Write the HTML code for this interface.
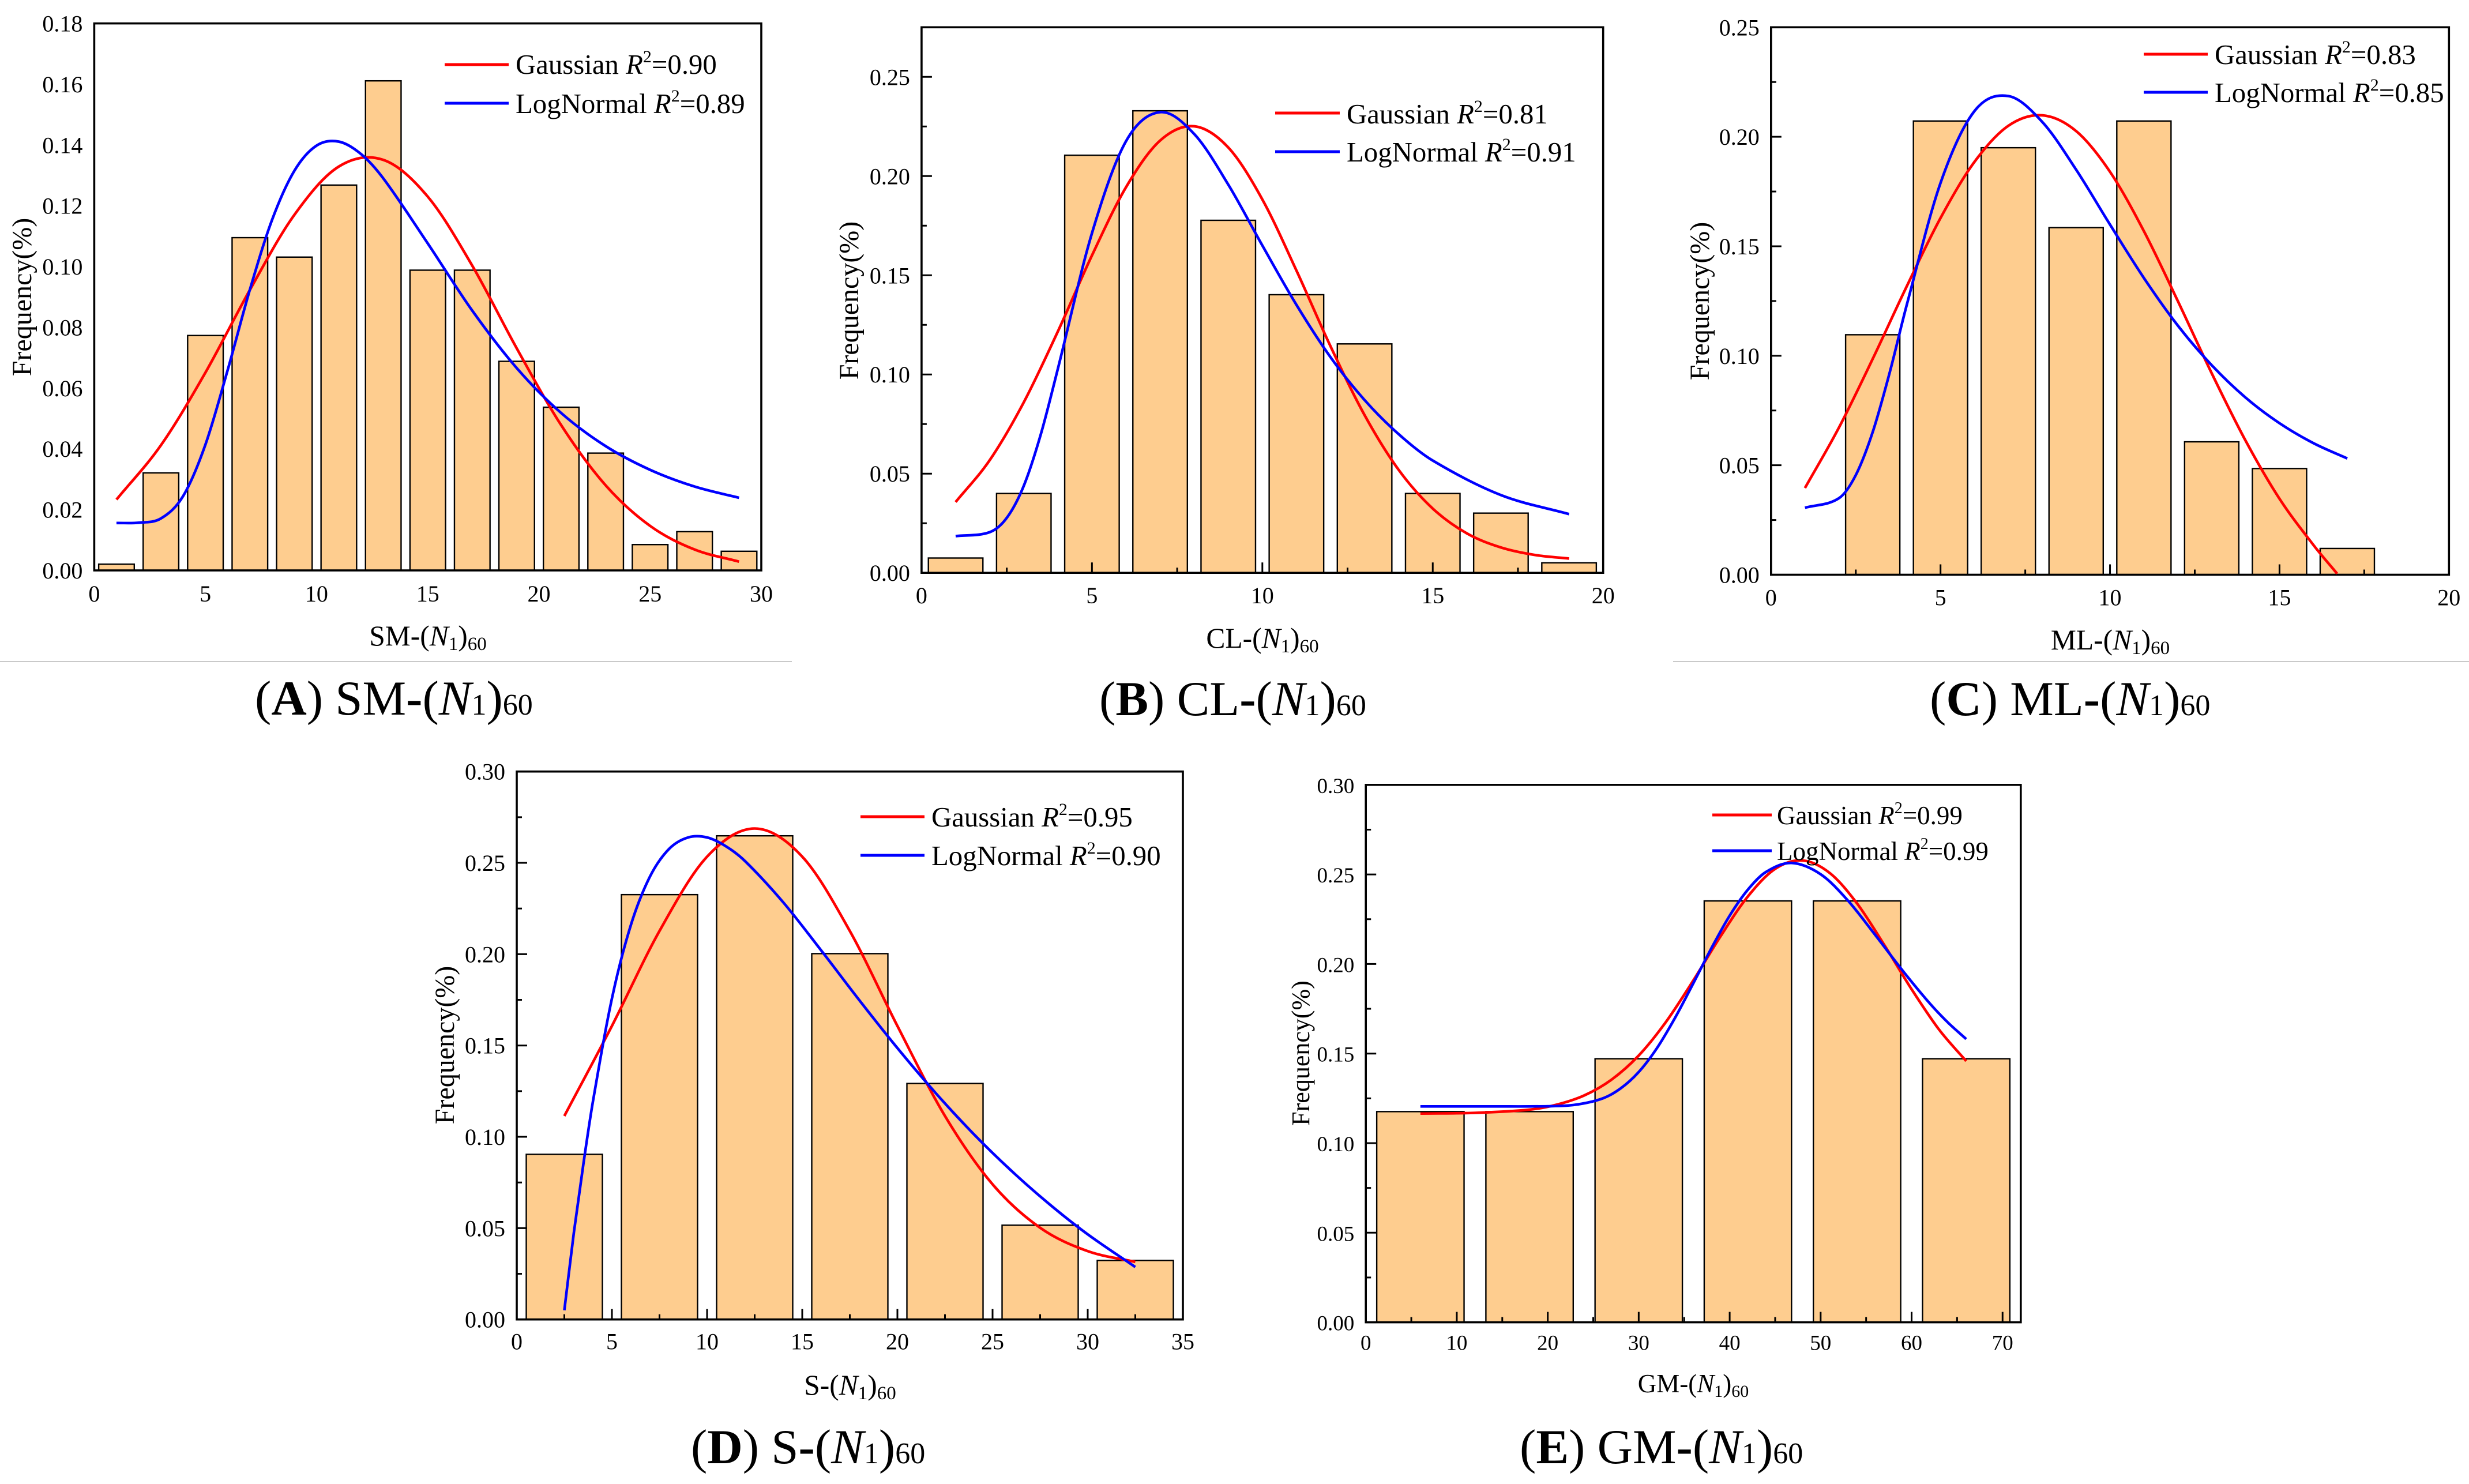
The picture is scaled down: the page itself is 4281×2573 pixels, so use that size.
<!DOCTYPE html>
<html lang="en">
<head>
<meta charset="utf-8">
<title>Frequency distributions of (N1)60 by soil type</title>
<style>
html,body{margin:0;padding:0;background:#fff;}
svg{display:block;}
text{font-family:"Liberation Serif",serif;fill:#000;}
.i{font-style:italic;}
.b{font-weight:bold;}
</style>
</head>
<body>
<svg id="fig" xmlns="http://www.w3.org/2000/svg" width="4281" height="2573" viewBox="0 0 4281 2573">
<rect x="0" y="0" width="4281" height="2573" fill="#ffffff"/>
<line x1="0" y1="1147" x2="1373" y2="1147" stroke="#c9c9c9" stroke-width="2"/>
<line x1="2901" y1="1147" x2="4281" y2="1147" stroke="#c9c9c9" stroke-width="2"/>

<g id="panel-a"></g>
<g id="panel-b"></g>
<g id="panel-c"></g>
<g id="panel-d"></g>
<g id="panel-e"></g>

<!-- Panel A text -->
<g>
<line x1="771" y1="112" x2="882" y2="112" stroke="#ff0000" stroke-width="5"/>
<text x="894" y="128" font-size="48.8">Gaussian <tspan class="i">R</tspan><tspan dy="-20" font-size="30">2</tspan><tspan dy="20">=0.90</tspan></text>
<line x1="771" y1="179" x2="882" y2="179" stroke="#0000ff" stroke-width="5"/>
<text x="894" y="196" font-size="48.8">LogNormal <tspan class="i">R</tspan><tspan dy="-20" font-size="30">2</tspan><tspan dy="20">=0.89</tspan></text>
</g>
<text transform="translate(54,515) rotate(-90)" text-anchor="middle" font-size="48">Frequency(%)</text>
<text x="742" y="1119" text-anchor="middle" font-size="49.5">SM-(<tspan class="i">N</tspan><tspan dy="8" font-size="33">1</tspan><tspan dy="-8">)</tspan><tspan dy="8" font-size="33">60</tspan></text>
<text x="442" y="1239" font-size="85">(<tspan class="b">A</tspan>) SM<tspan class="b">-</tspan>(<tspan class="i">N</tspan><tspan font-size="52">1</tspan>)<tspan font-size="52">60</tspan></text>

<!-- Panel B text -->
<g>
<line x1="2211" y1="196" x2="2323" y2="196" stroke="#ff0000" stroke-width="5"/>
<text x="2335" y="214" font-size="48.8">Gaussian <tspan class="i">R</tspan><tspan dy="-20" font-size="30">2</tspan><tspan dy="20">=0.81</tspan></text>
<line x1="2211" y1="263" x2="2323" y2="263" stroke="#0000ff" stroke-width="5"/>
<text x="2335" y="280" font-size="48.8">LogNormal <tspan class="i">R</tspan><tspan dy="-20" font-size="30">2</tspan><tspan dy="20">=0.91</tspan></text>
</g>
<text transform="translate(1488,521) rotate(-90)" text-anchor="middle" font-size="48">Frequency(%)</text>
<text x="2189" y="1123" text-anchor="middle" font-size="49.5">CL-(<tspan class="i">N</tspan><tspan dy="8" font-size="33">1</tspan><tspan dy="-8">)</tspan><tspan dy="8" font-size="33">60</tspan></text>
<text x="1906" y="1240" font-size="85">(<tspan class="b">B</tspan>) CL<tspan class="b">-</tspan>(<tspan class="i">N</tspan><tspan font-size="52">1</tspan>)<tspan font-size="52">60</tspan></text>

<!-- Panel C text -->
<g>
<line x1="3717" y1="94" x2="3828" y2="94" stroke="#ff0000" stroke-width="5"/>
<text x="3840" y="111" font-size="48.8">Gaussian <tspan class="i">R</tspan><tspan dy="-20" font-size="30">2</tspan><tspan dy="20">=0.83</tspan></text>
<line x1="3717" y1="160" x2="3828" y2="160" stroke="#0000ff" stroke-width="5"/>
<text x="3840" y="177" font-size="48.8">LogNormal <tspan class="i">R</tspan><tspan dy="-20" font-size="30">2</tspan><tspan dy="20">=0.85</tspan></text>
</g>
<text transform="translate(2963,522) rotate(-90)" text-anchor="middle" font-size="48">Frequency(%)</text>
<text x="3659" y="1126" text-anchor="middle" font-size="49.5">ML-(<tspan class="i">N</tspan><tspan dy="8" font-size="33">1</tspan><tspan dy="-8">)</tspan><tspan dy="8" font-size="33">60</tspan></text>
<text x="3346" y="1240" font-size="85">(<tspan class="b">C</tspan>) ML<tspan class="b">-</tspan>(<tspan class="i">N</tspan><tspan font-size="52">1</tspan>)<tspan font-size="52">60</tspan></text>

<!-- Panel D text -->
<g>
<line x1="1492" y1="1416" x2="1603" y2="1416" stroke="#ff0000" stroke-width="5"/>
<text x="1615" y="1433" font-size="48.8">Gaussian <tspan class="i">R</tspan><tspan dy="-20" font-size="30">2</tspan><tspan dy="20">=0.95</tspan></text>
<line x1="1492" y1="1483" x2="1603" y2="1483" stroke="#0000ff" stroke-width="5"/>
<text x="1615" y="1500" font-size="48.8">LogNormal <tspan class="i">R</tspan><tspan dy="-20" font-size="30">2</tspan><tspan dy="20">=0.90</tspan></text>
</g>
<text transform="translate(787,1812) rotate(-90)" text-anchor="middle" font-size="48">Frequency(%)</text>
<text x="1474" y="2418" text-anchor="middle" font-size="49.5">S-(<tspan class="i">N</tspan><tspan dy="8" font-size="33">1</tspan><tspan dy="-8">)</tspan><tspan dy="8" font-size="33">60</tspan></text>
<text x="1198" y="2537" font-size="85">(<tspan class="b">D</tspan>) S<tspan class="b">-</tspan>(<tspan class="i">N</tspan><tspan font-size="52">1</tspan>)<tspan font-size="52">60</tspan></text>

<!-- Panel E text -->
<g>
<line x1="2969" y1="1413" x2="3072" y2="1413" stroke="#ff0000" stroke-width="5"/>
<text x="3081" y="1429" font-size="45">Gaussian <tspan class="i">R</tspan><tspan dy="-19" font-size="28">2</tspan><tspan dy="19">=0.99</tspan></text>
<line x1="2969" y1="1475" x2="3072" y2="1475" stroke="#0000ff" stroke-width="5"/>
<text x="3081" y="1491" font-size="45">LogNormal <tspan class="i">R</tspan><tspan dy="-19" font-size="28">2</tspan><tspan dy="19">=0.99</tspan></text>
</g>
<text transform="translate(2270,1826) rotate(-90)" text-anchor="middle" font-size="44">Frequency(%)</text>
<text x="2936" y="2414" text-anchor="middle" font-size="45">GM-(<tspan class="i">N</tspan><tspan dy="8" font-size="30">1</tspan><tspan dy="-8">)</tspan><tspan dy="8" font-size="30">60</tspan></text>
<text x="2635" y="2537" font-size="85">(<tspan class="b">E</tspan>) GM<tspan class="b">-</tspan>(<tspan class="i">N</tspan><tspan font-size="52">1</tspan>)<tspan font-size="52">60</tspan></text>
</svg>

<script>
// ---- Panel A: SM ----
var smBins = [1,3,5,7,9,11,13,15,17,19,21,23,25,27,29];
var smFreq = [0.00205,0.0321,0.0773,0.1095,0.1031,0.1268,0.1611,0.0988,0.0988,0.0688,0.0537,0.0386,0.0085,0.01275,0.0063];
var smXTicks = ['0','5','10','15','20','25','30'];
var smYTicks = ['0.00','0.02','0.04','0.06','0.08','0.10','0.12','0.14','0.16','0.18'];
var smGaussX = [1,3,5,7,9,11,13,15,17,19,21,23,25,27,29];
var smGaussY = [.0233,.0412,.0651,.0923,.117,.1329,.1351,.123,.1003,.0731,.0478,.028,.01465,.00687,.0029];
var smLogX = [1,2,3,4,5,6,7,8,9,10,11,12,13,15,17,19,21,23,25,27,29];
var smLogY = [.0156,.0157,.0171,.0245,.0414,.0659,.0924,.1154,.1315,.1398,.1411,.137,.129,.1076,.0855,.0666,.0518,.0409,.0331,.0276,.0239];

// ---- Panel B: CL ----
var clBins = [1,3,5,7,9,11,13,15,17,19];
var clFreq = [0.00747,0.04,0.2105,0.2329,0.1777,0.1402,0.1154,0.04,0.0301,0.00506];
var clXTicks = ['0','5','10','15','20'];
var clYTicks = ['0.00','0.05','0.10','0.15','0.20','0.25'];
var clGaussX = [1,2,3,4,5,6,7,8,9,10,11,12,13,14,15,16,17,18,19];
var clGaussY = [.0357,.0568,.086,.1217,.16,.1944,.2179,.2251,.2144,.1882,.1524,.1142,.0795,.0519,.0324,.0199,.0128,.009,.0072];
var clLogX = [1,2,2.5,3,3.5,4,5,6,7,8,9,10,11,12,13,14,15,17,19];
var clLogY = [.0185,.0205,.0277,.0439,.0699,.1029,.1712,.2176,.2322,.2212,.1957,.165,.1351,.1087,.0871,.0699,.0566,.0392,.0296];

// ---- Panel C: ML ----
var mlBins = [3,5,7,9,11,13,15,17];
var mlFreq = [0.1096,0.2072,0.195,0.1585,0.2072,0.0607,0.0485,0.012];
var mlXTicks = ['0','5','10','15','20'];
var mlYTicks = ['0.00','0.05','0.10','0.15','0.20','0.25'];
var mlGaussX = [1,2,3,4,5,6,7,8,9,10,11,12,13,14,15,16,16.7];
var mlGaussY = [.0396,.0671,.0986,.1316,.1629,.1885,.205,.2098,.2026,.184,.1569,.125,.092,.0612,.0347,.0136,.0005];
var mlLogX = [1,2,2.5,3,3.5,4,5,6,7,8,9,10,11,12,13,14,15,16,17];
var mlLogY = [.0306,.0349,.0455,.0652,.0923,.123,.1789,.2117,.2186,.2068,.185,.1599,.1355,.1138,.0957,.0809,.0692,.0601,.0531];

// ---- Panel D: S ----
var sBins = [2.5,7.5,12.5,17.5,22.5,27.5,32.5];
var sFreq = [0.0904,0.2326,0.2648,0.2003,0.1292,0.0516,0.0323];
var sXTicks = ['0','5','10','15','20','25','30','35'];
var sYTicks = ['0.00','0.05','0.10','0.15','0.20','0.25','0.30'];
var sGaussX = [2.5,5,7.5,10,12.5,15,17.5,20,22.5,25,27.5,30,32.5];
var sGaussY = [.1114,.1607,.2127,.2534,.2688,.2534,.2127,.1607,.1114,.074,.0502,.0374,.0315];
var sLogX = [2.5,3,3.5,4,5,6,7,8,9,10,11,12,14,16,18,20,22,24,26,28,30,32.5];
var sLogY = [.005,.0475,.085,.1192,.1757,.2161,.2425,.2576,.2639,.2639,.259,.2509,.2284,.202,.1748,.1486,.1241,.1016,.0813,.063,.0466,.0287];

// ---- Panel E: GM ----
var gmBins = [6,18,30,42,54,66];
var gmFreq = [0.1176,0.1176,0.1471,0.2352,0.2352,0.1471];
var gmXTicks = ['0','10','20','30','40','50','60','70'];
var gmYTicks = ['0.00','0.05','0.10','0.15','0.20','0.25','0.30'];
var gmGaussX = [6,12,18,21,24,27,30,33,36,39,42,45,48,51,54,57,60,63,66];
var gmGaussY = [.1165,.1169,.1187,.1215,.1266,.1354,.1489,.1677,.1908,.2155,.2377,.2531,.2578,.2508,.2338,.2106,.1859,.1635,.1458];
var gmLogX = [6,14,20,23,26,28,30,32,34,36,38,40,42,44,46.8,50,53,56,59,62,64,66];
var gmLogY = [.1205,.1205,.1206,.1214,.1249,.1305,.1397,.153,.17,.1892,.2089,.227,.2415,.2514,.2564,.2501,.2354,.2162,.1964,.178,.1673,.1581];

var SVGNS = 'http://www.w3.org/2000/svg';

function make(tag, attrs, parent) {
  var el = document.createElementNS(SVGNS, tag);
  for (var k in attrs) { el.setAttribute(k, attrs[k]); }
  parent.appendChild(el);
  return el;
}

function smoothPath(pts) {
  var d = 'M' + pts[0][0].toFixed(2) + ' ' + pts[0][1].toFixed(2);
  for (var i = 0; i < pts.length - 1; i++) {
    var p0 = pts[Math.max(i - 1, 0)], p1 = pts[i], p2 = pts[i + 1], p3 = pts[Math.min(i + 2, pts.length - 1)];
    var h = p2[0] - p1[0];
    var m1 = (p2[1] - p0[1]) / ((p2[0] - p0[0]) || 1);
    var m2 = (p3[1] - p1[1]) / ((p3[0] - p1[0]) || 1);
    var c1x = p1[0] + h / 3, c1y = p1[1] + m1 * h / 3;
    var c2x = p2[0] - h / 3, c2y = p2[1] - m2 * h / 3;
    d += 'C' + c1x.toFixed(2) + ' ' + c1y.toFixed(2) + ' ' + c2x.toFixed(2) + ' ' + c2y.toFixed(2) + ' ' + p2[0].toFixed(2) + ' ' + p2[1].toFixed(2);
  }
  return d;
}

function drawPanel(cfg) {
  var g = document.getElementById(cfg.id);
  var sx = function (v) { return cfg.left + (v - 0) / cfg.xMax * (cfg.right - cfg.left); };
  var sy = function (v) { return cfg.bottom - (v - 0) / cfg.yMax * (cfg.bottom - cfg.top); };

  // bars
  cfg.bins.forEach(function (b, i) {
    var x0 = sx(b - cfg.barWidth / 2), x1 = sx(b + cfg.barWidth / 2), y0 = sy(cfg.freq[i]);
    var r = make('rect', { x: x0, y: y0, width: x1 - x0, height: cfg.bottom - y0, fill: '#FECD8F', stroke: '#000', 'stroke-width': 2.4 }, g);
    
    
  });

  // ticks
  var xVals = cfg.xTicks.map(parseFloat), yVals = cfg.yTicks.map(parseFloat);
  if (cfg.showTicks) {
    var xStep = xVals[1] - xVals[0], yStep = yVals[1] - yVals[0];
    for (var xv = 0; xv <= cfg.xMax + 1e-9; xv += xStep / 2) {
      var isMajorX = Math.abs(xv / xStep - Math.round(xv / xStep)) < 1e-6;
      var tx = make('line', { x1: sx(xv), x2: sx(xv), y1: cfg.bottom, y2: cfg.bottom - (isMajorX ? 18 : 9), stroke: '#000', 'stroke-width': 3 }, g);
      
      
    }
    for (var yv = 0; yv <= cfg.yMax + 1e-9; yv += yStep / 2) {
      var isMajorY = Math.abs(yv / yStep - Math.round(yv / yStep)) < 1e-6;
      var ty = make('line', { x1: cfg.left, x2: cfg.left + (isMajorY ? 18 : 9), y1: sy(yv), y2: sy(yv), stroke: '#000', 'stroke-width': 3 }, g);
      
      
    }
  }

  // tick labels
  cfg.xTicks.forEach(function (t, i) {
    var el = make('text', { x: sx(xVals[i]), y: cfg.bottom + cfg.xLabelGap, 'text-anchor': 'middle', 'font-size': cfg.tickSize }, g);
    el.textContent = t;
    
    
  });
  cfg.yTicks.forEach(function (t, i) {
    var el = make('text', { x: cfg.left - 20, y: sy(yVals[i]) + 14, 'text-anchor': 'end', 'font-size': cfg.tickSize }, g);
    el.textContent = t;
    
    
  });

  // plot frame
  var frame = make('rect', { x: cfg.left, y: cfg.top, width: cfg.right - cfg.left, height: cfg.bottom - cfg.top, fill: 'none', stroke: '#000', 'stroke-width': 3.6 }, g);
  
  

  // curves
  var gPts = cfg.gaussX.map(function (x, i) { return [sx(x), sy(cfg.gaussY[i])]; });
  var gPath = make('path', { d: smoothPath(gPts), fill: 'none', stroke: '#ff0000', 'stroke-width': 4.6 }, g);
  
  

  var lPts = cfg.logX.map(function (x, i) { return [sx(x), sy(cfg.logY[i])]; });
  var lPath = make('path', { d: smoothPath(lPts), fill: 'none', stroke: '#0000ff', 'stroke-width': 4.6 }, g);
  
  
}

drawPanel({ id: 'panel-a', left: 163.4, right: 1320, top: 40.6, bottom: 989, xMax: 30, yMax: 0.18, barWidth: 1.6,
  bins: smBins, freq: smFreq, xTicks: smXTicks, yTicks: smYTicks, gaussX: smGaussX, gaussY: smGaussY, logX: smLogX, logY: smLogY,
  showTicks: false, tickSize: 40, xLabelGap: 54 });
drawPanel({ id: 'panel-b', left: 1597.9, right: 2779.7, top: 47.3, bottom: 993.2, xMax: 20, yMax: 0.275, barWidth: 1.6,
  bins: clBins, freq: clFreq, xTicks: clXTicks, yTicks: clYTicks, gaussX: clGaussX, gaussY: clGaussY, logX: clLogX, logY: clLogY,
  showTicks: true, tickSize: 40, xLabelGap: 53 });
drawPanel({ id: 'panel-c', left: 3070.8, right: 4246.3, top: 47.3, bottom: 996.5, xMax: 20, yMax: 0.25, barWidth: 1.6,
  bins: mlBins, freq: mlFreq, xTicks: mlXTicks, yTicks: mlYTicks, gaussX: mlGaussX, gaussY: mlGaussY, logX: mlLogX, logY: mlLogY,
  showTicks: true, tickSize: 40, xLabelGap: 53 });
drawPanel({ id: 'panel-d', left: 896, right: 2051, top: 1337.7, bottom: 2287.7, xMax: 35, yMax: 0.3, barWidth: 4,
  bins: sBins, freq: sFreq, xTicks: sXTicks, yTicks: sYTicks, gaussX: sGaussX, gaussY: sGaussY, logX: sLogX, logY: sLogY,
  showTicks: true, tickSize: 40, xLabelGap: 52 });
drawPanel({ id: 'panel-e', left: 2368.2, right: 3503.8, top: 1360.8, bottom: 2292.6, xMax: 72, yMax: 0.3, barWidth: 9.6,
  bins: gmBins, freq: gmFreq, xTicks: gmXTicks, yTicks: gmYTicks, gaussX: gmGaussX, gaussY: gmGaussY, logX: gmLogX, logY: gmLogY,
  showTicks: true, tickSize: 37, xLabelGap: 48 });
</script>
</body>
</html>
